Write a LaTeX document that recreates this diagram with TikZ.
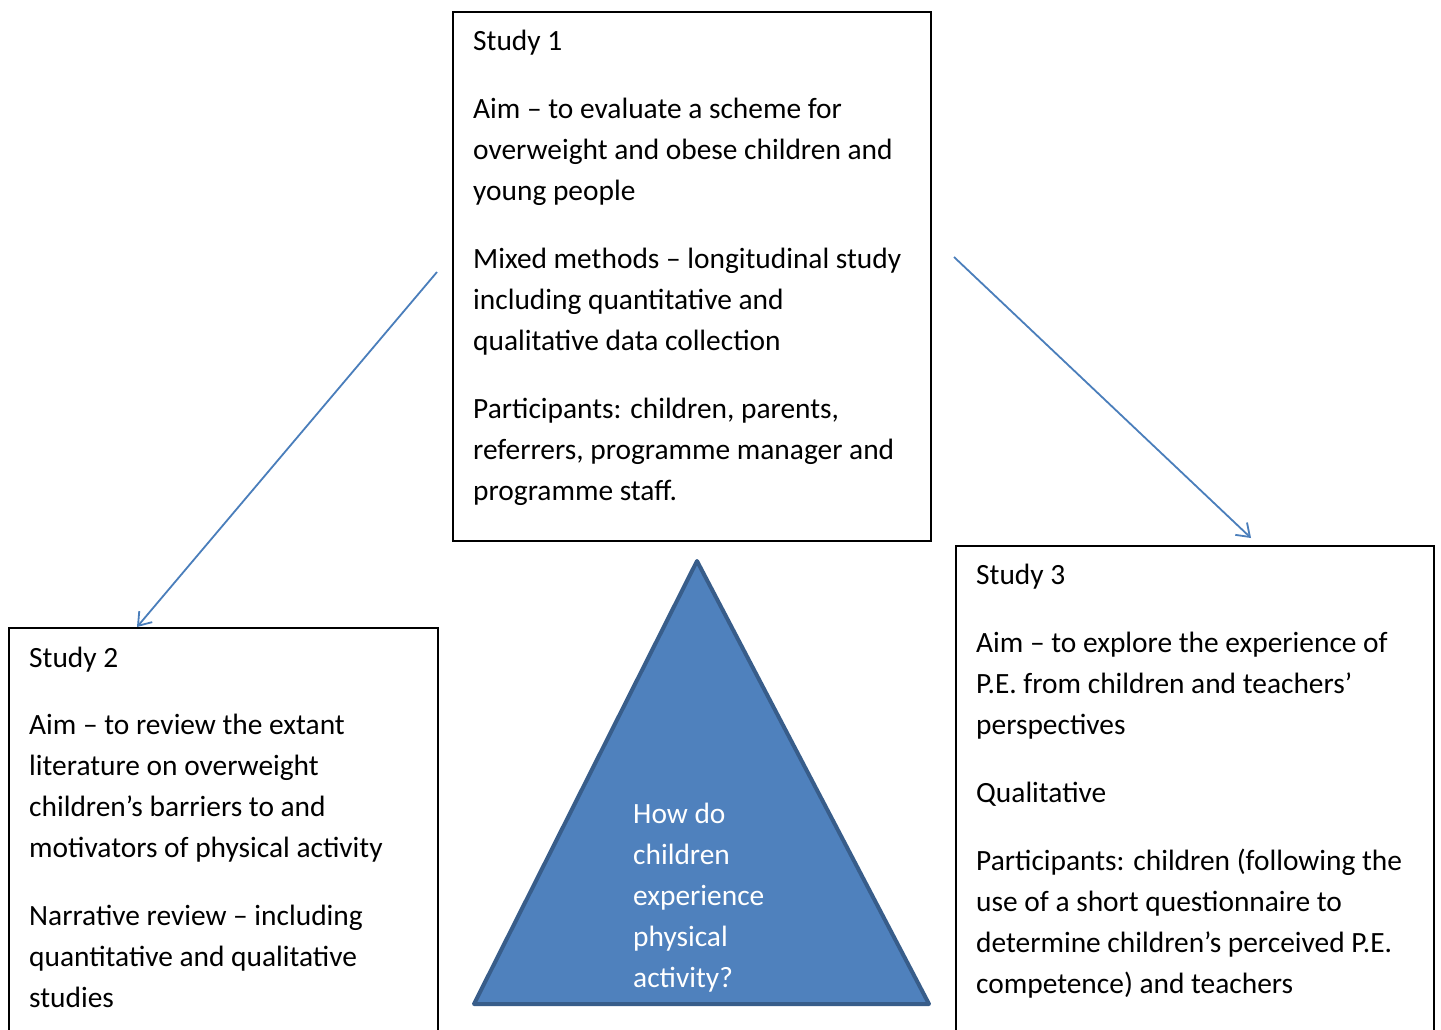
\documentclass[tikz,border=0pt]{standalone}
\usepackage{fontspec}
\setmainfont{Carlito}
\usetikzlibrary{arrows.meta,calc}
\definecolor{arrowblue}{HTML}{4A7EBB}
\definecolor{trifill}{HTML}{4F81BD}
\definecolor{triline}{HTML}{385D8A}
\tikzset{
  studybox/.style={draw=black, line width=2pt, fill=none, inner sep=0pt, anchor=north west},
  studytext/.style={anchor=north west, inner sep=0pt, align=left, font=\fontsize{29.4}{41}\selectfont, text=black},
  qtext/.style={anchor=north west, inner sep=0pt, align=left, font=\fontsize{29.4}{41}\selectfont, text=white},
  link/.style={draw=arrowblue, line width=1.8pt, -{Straight Barb[length=12pt,width=17pt,line width=1.8pt]}}
}
\newcommand{\firststrut}{\rule{0pt}{25pt}}
\begin{document}
\begin{tikzpicture}[x=1pt,y=-1pt]
\clip (0,0) rectangle (1441,1029);
\fill[white] (0,0) rectangle (1441,1029);

% boxes
\node[studybox, minimum width=478, minimum height=529] (s1) at (452,11) {};
\node[studybox, minimum width=429, minimum height=440] (s2) at (8,627) {};
\node[studybox, minimum width=478, minimum height=520] (s3) at (955,545) {};

% texts
\node[studytext] (t1) at (473,25) {\firststrut Study 1\\[27pt]
Aim -- to evaluate a scheme for\\
overweight and obese children and\\
young people\\[27pt]
Mixed methods -- longitudinal study\\
including quantitative and\\
qualitative data collection\\[27pt]
Participants: children, parents,\\
referrers, programme manager and\\
programme staff.};

\node[studytext] (t2) at (29,642) {\firststrut Study 2\\[26pt]
Aim -- to review the extant\\
literature on overweight\\
children’s barriers to and\\
motivators of physical activity\\[27pt]
Narrative review -- including\\
quantitative and qualitative\\
studies};

\node[studytext] (t3) at (976,559) {\firststrut Study 3\\[27pt]
Aim -- to explore the experience of\\
P.E. from children and teachers’\\
perspectives\\[27pt]
Qualitative\\[27pt]
Participants: children (following the\\
use of a short questionnaire to\\
determine children’s perceived P.E.\\
competence) and teachers};

% triangle
\draw[fill=trifill, draw=triline, line width=4pt, line join=round] (697,561) -- (929,1004) -- (474,1004) -- cycle;
\node[qtext] (q) at (633,798) {\firststrut How do\\
children\\
experience\\
physical\\
activity?};

% connectors
\coordinate (a1) at (437,272);
\coordinate (a2) at (954,257);
\draw[link] (a1) -- ($(s2.north west)+(129,0)$);
\draw[link] (a2) -- ($(s3.north west)+(296,-7)$);
\end{tikzpicture}
\end{document}
